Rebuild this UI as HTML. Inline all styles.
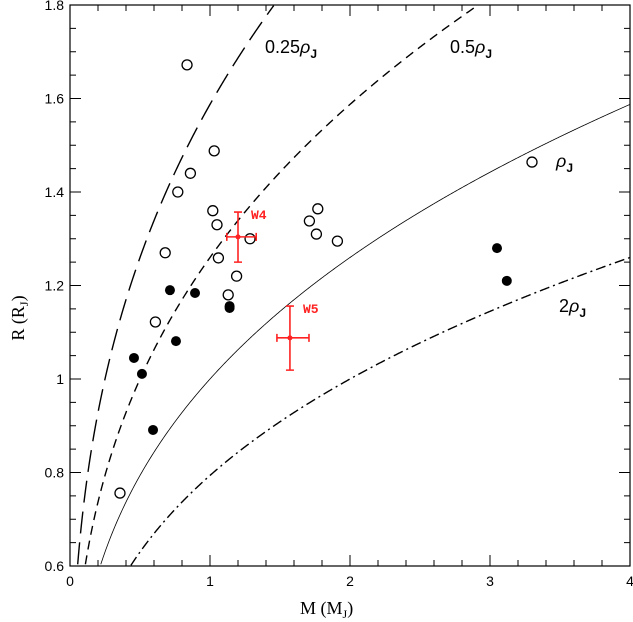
<!DOCTYPE html>
<html><head><meta charset="utf-8">
<style>
body{margin:0;background:#fff;}
svg{display:block;font-family:"Liberation Sans",sans-serif;}
</style></head>
<body>
<svg id="chart" width="633" height="622" viewBox="0 0 633 622" xmlns="http://www.w3.org/2000/svg">
<g id="curves"></g>
<g id="axes"></g>
<g id="pts"></g>
<text x="265" y="53" font-size="18">0.25<tspan font-style="italic">ρ</tspan><tspan font-size="12" dy="5" font-weight="bold">J</tspan></text>
<text x="450" y="53" font-size="18">0.5<tspan font-style="italic">ρ</tspan><tspan font-size="12" dy="5" font-weight="bold">J</tspan></text>
<text x="556" y="167" font-size="18"><tspan font-style="italic">ρ</tspan><tspan font-size="12" dy="5" font-weight="bold">J</tspan></text>
<text x="559" y="312" font-size="18">2<tspan font-style="italic">ρ</tspan><tspan font-size="12" dy="5" font-weight="bold">J</tspan></text>
<text x="300" y="614" font-size="18" font-family="Liberation Serif">M (M<tspan font-size="12" dy="4">J</tspan><tspan dy="-4">)</tspan></text>
<text transform="translate(24,318) rotate(-90)" font-size="18" font-family="Liberation Serif" text-anchor="middle">R (R<tspan font-size="12" dy="4">J</tspan><tspan dy="-4">)</tspan></text>
</svg>
<script>
const openM=[0.836,1.03,0.86,0.77,1.02,1.05,1.71,1.77,1.76,1.91,1.286,0.68,1.06,1.19,1.13,0.61,0.357,3.30];
const openR=[1.672,1.488,1.44,1.40,1.36,1.33,1.338,1.364,1.31,1.295,1.30,1.27,1.259,1.22,1.18,1.122,0.756,1.464];
const fillM=[0.714,0.893,1.14,1.14,0.457,0.514,0.757,0.593,3.05,3.12];
const fillR=[1.19,1.184,1.152,1.156,1.045,1.011,1.081,0.891,1.28,1.21];
const wNames=["W4","W5"];
const wM=[1.2,1.571];
const wR=[1.304,1.088];
const wMlo=[0.08,0.093];
const wMhi=[0.13,0.136];
const wRlo=[0.054,0.069];
const wRhi=[0.053,0.068];
const densities=[0.25,0.5,1,2];
const xTicks=[0,1,2,3,4];
const yTicks=[0.6,0.8,1,1.2,1.4,1.6,1.8];
const yTickLabels=["0.6","0.8","1","1.2","1.4","1.6","1.8"];

const X0=70,X1=630,Y0=566,Y1=5;
const xs=m=>X0+(m-0)/4*(X1-X0);
const ys=r=>Y0-(r-0.6)/1.2*(Y0-Y1);
const NS="http://www.w3.org/2000/svg";
function mk(tag,at,parent){const e=document.createElementNS(NS,tag);for(const k in at)e.setAttribute(k,at[k]);parent.appendChild(e);return e;}
const axes=document.getElementById('axes'),curves=document.getElementById('curves'),pts=document.getElementById('pts');

let fr=mk('rect',{x:X0,y:Y1,width:X1-X0,height:Y0-Y1,fill:'none',stroke:'#000','stroke-width':1.2},axes);


let d='';
for(let i=0;i<=20;i++){const m=i*0.2,x=xs(m),L=(i%5==0)?11:6;d+=`M${x},${Y0}v${-L}M${x},${Y1}v${L}`;}
for(let i=0;i<=24;i++){const r=0.6+i*0.05,y=ys(r),L=(i%4==0)?11:6;d+=`M${X0},${y}h${L}M${X1},${y}h${-L}`;}
let tk=mk('path',{d:d,stroke:'#000','stroke-width':1,fill:'none'},axes);


xTicks.forEach(v=>{const t=mk('text',{x:xs(v),y:586,'font-size':14,'text-anchor':'middle'},axes);t.textContent=v;

});
yTicks.forEach((v,i)=>{const t=mk('text',{x:X0-6,y:ys(v)+5,'font-size':14,'text-anchor':'end'},axes);t.textContent=yTickLabels[i];

});

const dashes=['22,9','9,6','none','10,4,2,4'];
densities.forEach((k,i)=>{let p='';let first=true;
for(let j=0;j<=800;j++){const m=j/200;const r=Math.cbrt(m/k);if(r<0.6||r>1.8)continue;p+=(first?'M':'L')+xs(m).toFixed(2)+','+ys(r).toFixed(2);first=false;}
const e=mk('path',{d:p,fill:'none',stroke:'#000','stroke-width':i==2?0.8:1.4,'stroke-dasharray':dashes[i]},curves);

});

openM.forEach((m,i)=>{const c=mk('circle',{cx:xs(m),cy:ys(openR[i]),r:5,fill:'#fff',stroke:'#000','stroke-width':1.3},pts);

});
fillM.forEach((m,i)=>{const c=mk('circle',{cx:xs(m),cy:ys(fillR[i]),r:5,fill:'#000'},pts);

});
wM.forEach((m,i)=>{const g=mk('g',{stroke:'#f22','stroke-width':1.6,fill:'#f22'},pts);


const cx=xs(m),cy=ys(wR[i]),xl=xs(m-wMlo[i]),xh=xs(m+wMhi[i]),yl=ys(wR[i]-wRlo[i]),yh=ys(wR[i]+wRhi[i]);
mk('path',{d:`M${xl},${cy}H${xh}M${xl},${cy-4}v8M${xh},${cy-4}v8M${cx},${yh}V${yl}M${cx-4},${yh}h8M${cx-4},${yl}h8`,fill:'none'},g);
mk('circle',{cx:cx,cy:cy,r:2.5,stroke:'none'},g);
const t=mk('text',{x:cx+13,y:yh+7,'font-size':13,'font-weight':'bold',stroke:'none','font-family':'Liberation Mono'},g);t.textContent=wNames[i];

});
</script>
</body></html>
